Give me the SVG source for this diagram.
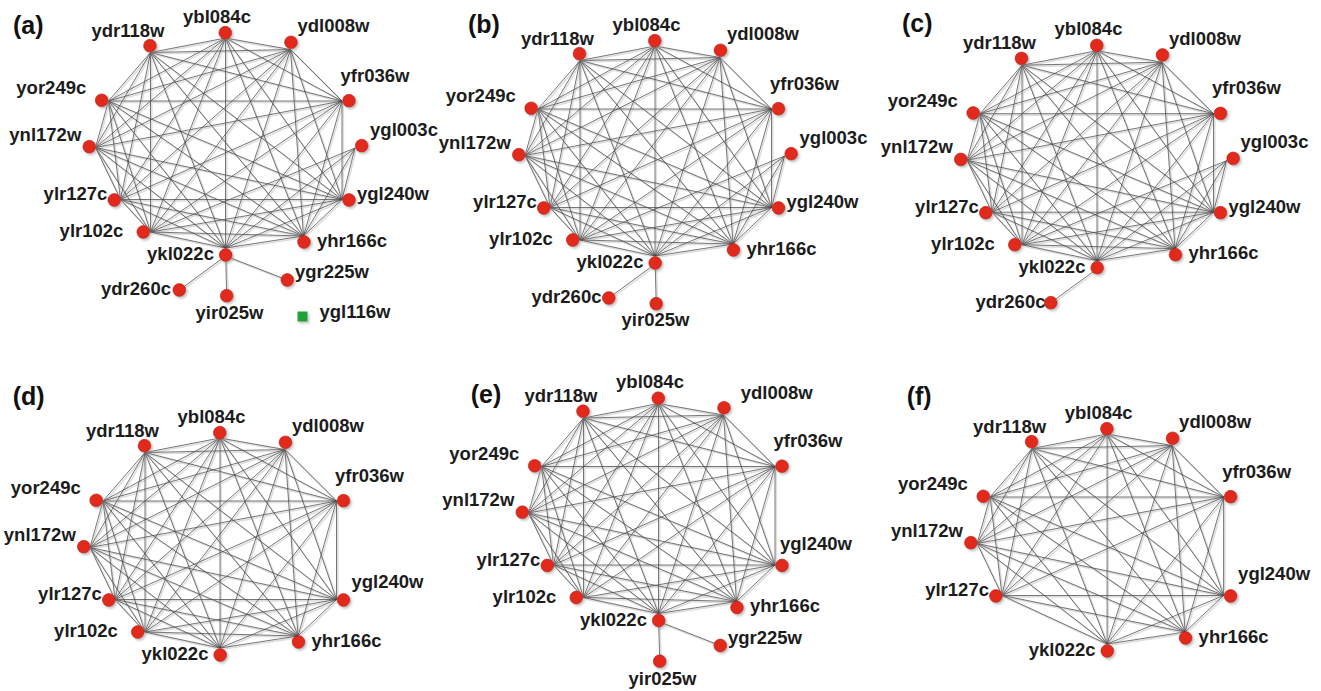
<svg xmlns="http://www.w3.org/2000/svg" xmlns:xlink="http://www.w3.org/1999/xlink" width="1321" height="691" viewBox="0 0 1321 691">
  <style>
    .lbl { font-family: "Liberation Sans", Arial, sans-serif; font-weight: bold; font-size: 18.5px; fill: #1c1c1c; text-anchor: middle; }
    .tag { font-family: "Liberation Sans", Arial, sans-serif; font-weight: bold; font-size: 25px; fill: #111; }
    .node circle { fill: #e2291c; stroke: #b81d12; stroke-width: 0.6; filter: url(#sh); }
    .node rect { fill: #1fa33a; filter: url(#sh); }
    .halo { fill: none; stroke: #dedede; stroke-width: 1.6; }
    .wire { fill: none; stroke: #484848; stroke-width: 0.75; }
  </style>
  <defs>
    <filter id="sh" x="-60%" y="-60%" width="220%" height="220%">
      <feDropShadow dx="1.6" dy="1.8" stdDeviation="1" flood-color="#888" flood-opacity="0.55"/>
    </filter>
    <!-- shared edge sets, in layout coordinates -->
    <path id="core10" d="M150.5 52.5L225.5 38M150.5 52.5L290.5 49.5M150.5 52.5L342 101M150.5 52.5L342 199.5M150.5 52.5L303.5 236M150.5 52.5L225.5 248M150.5 52.5L120.5 199.5M150.5 52.5L95.5 147.5M150.5 52.5L108.5 101
      M225.5 38L290.5 49.5M225.5 38L342 101M225.5 38L342 199.5M225.5 38L303.5 236M225.5 38L225.5 248M225.5 38L120.5 199.5M225.5 38L95.5 147.5M225.5 38L108.5 101
      M290.5 49.5L342 101M290.5 49.5L342 199.5M290.5 49.5L303.5 236M290.5 49.5L225.5 248M290.5 49.5L120.5 199.5M290.5 49.5L95.5 147.5M290.5 49.5L108.5 101
      M342 101L342 199.5M342 101L303.5 236M342 101L225.5 248M342 101L120.5 199.5M342 101L95.5 147.5M342 101L108.5 101
      M342 199.5L303.5 236M342 199.5L225.5 248M342 199.5L120.5 199.5M342 199.5L95.5 147.5M342 199.5L108.5 101
      M303.5 236L225.5 248M303.5 236L120.5 199.5M303.5 236L95.5 147.5M303.5 236L108.5 101
      M225.5 248L120.5 199.5M225.5 248L95.5 147.5M225.5 248L108.5 101
      M120.5 199.5L95.5 147.5M120.5 199.5L108.5 101
      M95.5 147.5L108.5 101"/>
    <path id="e-ylr102c" d="M150.5 232L150.5 52.5M150.5 232L225.5 38M150.5 232L290.5 49.5M150.5 232L342 101M150.5 232L342 199.5M150.5 232L303.5 236M150.5 232L225.5 248M150.5 232L120.5 199.5M150.5 232L95.5 147.5M150.5 232L108.5 101"/>
    <path id="e-ygl003c" d="M355 148L342 199.5M355 148L303.5 236M355 148L225.5 248M355 148L150.5 232"/>
    <path id="e-ydr260c" d="M225.7 256L179.3 290"/>
    <path id="e-yir025w" d="M225.7 256L226.7 295.7"/>
    <path id="e-ygr225w" d="M225.7 256L287.3 280"/>
  </defs>

  <rect width="1321" height="691" fill="#ffffff"/>

  <!-- panel letters -->
  <text class="tag" x="13" y="34">(a)</text>
  <text class="tag" x="468" y="33.3">(b)</text>
  <text class="tag" x="902" y="32.3">(c)</text>
  <text class="tag" x="12.7" y="405">(d)</text>
  <text class="tag" x="470.7" y="403.3">(e)</text>
  <text class="tag" x="906.7" y="405">(f)</text>

  <!-- (a) -->
  <g id="panel-a">
    <g id="a-edges">
      <g class="halo" transform="translate(1.3,1.4)">
        <use xlink:href="#core10"/><use xlink:href="#e-ylr102c"/><use xlink:href="#e-ygl003c"/><use xlink:href="#e-ydr260c"/><use xlink:href="#e-yir025w"/><use xlink:href="#e-ygr225w"/>
      </g>
      <g class="wire">
        <use xlink:href="#core10"/><use xlink:href="#e-ylr102c"/><use xlink:href="#e-ygl003c"/><use xlink:href="#e-ydr260c"/><use xlink:href="#e-yir025w"/><use xlink:href="#e-ygr225w"/>
      </g>
    </g>
    <g id="a-ydr118w" class="node"><circle cx="150" cy="45.7" r="6.4"/><text class="lbl" x="128" y="36.7">ydr118w</text></g>
    <g id="a-ybl084c" class="node"><circle cx="225.3" cy="32.7" r="6.4"/><text class="lbl" x="217" y="22.7">ybl084c</text></g>
    <g id="a-ydl008w" class="node"><circle cx="291" cy="42.3" r="6.4"/><text class="lbl" x="333.5" y="32.3">ydl008w</text></g>
    <g id="a-yfr036w" class="node"><circle cx="349" cy="100.7" r="6.4"/><text class="lbl" x="375" y="81.7">yfr036w</text></g>
    <g id="a-ygl003c" class="node"><circle cx="361.7" cy="145.7" r="6.4"/><text class="lbl" x="404" y="135.7">ygl003c</text></g>
    <g id="a-ygl240w" class="node"><circle cx="349" cy="200" r="6.4"/><text class="lbl" x="393" y="200">ygl240w</text></g>
    <g id="a-yhr166c" class="node"><circle cx="304" cy="242" r="6.4"/><text class="lbl" x="352" y="246.7">yhr166c</text></g>
    <g id="a-ykl022c" class="node"><circle cx="225.7" cy="255" r="6.4"/><text class="lbl" x="180.5" y="260">ykl022c</text></g>
    <g id="a-ylr102c" class="node"><circle cx="143.3" cy="232" r="6.4"/><text class="lbl" x="91.5" y="237.3">ylr102c</text></g>
    <g id="a-ylr127c" class="node"><circle cx="114.3" cy="200" r="6.4"/><text class="lbl" x="75.5" y="200">ylr127c</text></g>
    <g id="a-ynl172w" class="node"><circle cx="89.3" cy="146.7" r="6.4"/><text class="lbl" x="45.3" y="140.7">ynl172w</text></g>
    <g id="a-yor249c" class="node"><circle cx="101.7" cy="100.3" r="6.4"/><text class="lbl" x="51.3" y="94.3">yor249c</text></g>
    <g id="a-ydr260c" class="node"><circle cx="179.3" cy="290" r="6.4"/><text class="lbl" x="136" y="295">ydr260c</text></g>
    <g id="a-yir025w" class="node"><circle cx="226.7" cy="295.7" r="6.4"/><text class="lbl" x="229.5" y="319.3">yir025w</text></g>
    <g id="a-ygr225w" class="node"><circle cx="287.3" cy="280" r="6.4"/><text class="lbl" x="332" y="278.3">ygr225w</text></g>
    <g id="a-ygl116w" class="node"><rect x="297.5" y="311.5" width="10" height="10"/><text class="lbl" x="355" y="318.3">ygl116w</text></g>
  </g>

  <!-- (b) -->
  <g id="panel-b" transform="translate(429.5,8)">
    <g id="b-edges">
      <g class="halo" transform="translate(1.3,1.4)">
        <use xlink:href="#core10"/><use xlink:href="#e-ylr102c"/><use xlink:href="#e-ygl003c"/><use xlink:href="#e-ydr260c"/><use xlink:href="#e-yir025w"/>
      </g>
      <g class="wire">
        <use xlink:href="#core10"/><use xlink:href="#e-ylr102c"/><use xlink:href="#e-ygl003c"/><use xlink:href="#e-ydr260c"/><use xlink:href="#e-yir025w"/>
      </g>
    </g>
    <g id="b-ydr118w" class="node"><circle cx="150" cy="45.7" r="6.4"/><text class="lbl" x="128" y="36.7">ydr118w</text></g>
    <g id="b-ybl084c" class="node"><circle cx="225.3" cy="32.7" r="6.4"/><text class="lbl" x="217" y="22.7">ybl084c</text></g>
    <g id="b-ydl008w" class="node"><circle cx="291" cy="42.3" r="6.4"/><text class="lbl" x="333.5" y="32.3">ydl008w</text></g>
    <g id="b-yfr036w" class="node"><circle cx="349" cy="100.7" r="6.4"/><text class="lbl" x="375" y="81.7">yfr036w</text></g>
    <g id="b-ygl003c" class="node"><circle cx="361.7" cy="145.7" r="6.4"/><text class="lbl" x="404" y="135.7">ygl003c</text></g>
    <g id="b-ygl240w" class="node"><circle cx="349" cy="200" r="6.4"/><text class="lbl" x="393" y="200">ygl240w</text></g>
    <g id="b-yhr166c" class="node"><circle cx="304" cy="242" r="6.4"/><text class="lbl" x="352" y="246.7">yhr166c</text></g>
    <g id="b-ykl022c" class="node"><circle cx="225.7" cy="255" r="6.4"/><text class="lbl" x="180.5" y="260">ykl022c</text></g>
    <g id="b-ylr102c" class="node"><circle cx="143.3" cy="232" r="6.4"/><text class="lbl" x="91.5" y="237.3">ylr102c</text></g>
    <g id="b-ylr127c" class="node"><circle cx="114.3" cy="200" r="6.4"/><text class="lbl" x="75.5" y="200">ylr127c</text></g>
    <g id="b-ynl172w" class="node"><circle cx="89.3" cy="146.7" r="6.4"/><text class="lbl" x="45.3" y="140.7">ynl172w</text></g>
    <g id="b-yor249c" class="node"><circle cx="101.7" cy="100.3" r="6.4"/><text class="lbl" x="51.3" y="94.3">yor249c</text></g>
    <g id="b-ydr260c" class="node"><circle cx="179.3" cy="290" r="6.4"/><text class="lbl" x="137" y="295">ydr260c</text></g>
    <g id="b-yir025w" class="node"><circle cx="226.7" cy="295.7" r="6.4"/><text class="lbl" x="226" y="317.5">yir025w</text></g>
  </g>

  <!-- (c) -->
  <g id="panel-c" transform="translate(871.5,12.7)">
    <g id="c-edges">
      <g class="halo" transform="translate(1.3,1.4)">
        <use xlink:href="#core10"/><use xlink:href="#e-ylr102c"/><use xlink:href="#e-ygl003c"/><use xlink:href="#e-ydr260c"/>
      </g>
      <g class="wire">
        <use xlink:href="#core10"/><use xlink:href="#e-ylr102c"/><use xlink:href="#e-ygl003c"/><use xlink:href="#e-ydr260c"/>
      </g>
    </g>
    <g id="c-ydr118w" class="node"><circle cx="150" cy="45.7" r="6.4"/><text class="lbl" x="128" y="36.7">ydr118w</text></g>
    <g id="c-ybl084c" class="node"><circle cx="225.3" cy="32.7" r="6.4"/><text class="lbl" x="217" y="22.7">ybl084c</text></g>
    <g id="c-ydl008w" class="node"><circle cx="291" cy="42.3" r="6.4"/><text class="lbl" x="333.5" y="32.3">ydl008w</text></g>
    <g id="c-yfr036w" class="node"><circle cx="349" cy="100.7" r="6.4"/><text class="lbl" x="375" y="81.7">yfr036w</text></g>
    <g id="c-ygl003c" class="node"><circle cx="361.7" cy="145.7" r="6.4"/><text class="lbl" x="403" y="135.7">ygl003c</text></g>
    <g id="c-ygl240w" class="node"><circle cx="349" cy="200" r="6.4"/><text class="lbl" x="393" y="200">ygl240w</text></g>
    <g id="c-yhr166c" class="node"><circle cx="304" cy="242" r="6.4"/><text class="lbl" x="352" y="246.7">yhr166c</text></g>
    <g id="c-ykl022c" class="node"><circle cx="225.7" cy="255" r="6.4"/><text class="lbl" x="180.5" y="260">ykl022c</text></g>
    <g id="c-ylr102c" class="node"><circle cx="143.3" cy="232" r="6.4"/><text class="lbl" x="91.5" y="237.3">ylr102c</text></g>
    <g id="c-ylr127c" class="node"><circle cx="114.3" cy="200" r="6.4"/><text class="lbl" x="75.5" y="200">ylr127c</text></g>
    <g id="c-ynl172w" class="node"><circle cx="89.3" cy="146.7" r="6.4"/><text class="lbl" x="45.3" y="140.7">ynl172w</text></g>
    <g id="c-yor249c" class="node"><circle cx="101.7" cy="100.3" r="6.4"/><text class="lbl" x="51.3" y="94.3">yor249c</text></g>
    <g id="c-ydr260c" class="node"><circle cx="179.3" cy="290" r="6.4"/><text class="lbl" x="139" y="295.5">ydr260c</text></g>
  </g>

  <!-- (d) -->
  <g id="panel-d" transform="translate(-5.5,400)">
    <g id="d-edges">
      <g class="halo" transform="translate(1.3,1.4)">
        <use xlink:href="#core10"/><use xlink:href="#e-ylr102c"/>
      </g>
      <g class="wire">
        <use xlink:href="#core10"/><use xlink:href="#e-ylr102c"/>
      </g>
    </g>
    <g id="d-ydr118w" class="node"><circle cx="150" cy="45.7" r="6.4"/><text class="lbl" x="128" y="36.7">ydr118w</text></g>
    <g id="d-ybl084c" class="node"><circle cx="225.3" cy="32.7" r="6.4"/><text class="lbl" x="217" y="22.7">ybl084c</text></g>
    <g id="d-ydl008w" class="node"><circle cx="291" cy="42.3" r="6.4"/><text class="lbl" x="333.5" y="32.3">ydl008w</text></g>
    <g id="d-yfr036w" class="node"><circle cx="349" cy="100.7" r="6.4"/><text class="lbl" x="375" y="81.7">yfr036w</text></g>
    <g id="d-ygl240w" class="node"><circle cx="349" cy="200" r="6.4"/><text class="lbl" x="393" y="188">ygl240w</text></g>
    <g id="d-yhr166c" class="node"><circle cx="304" cy="242" r="6.4"/><text class="lbl" x="352" y="246.7">yhr166c</text></g>
    <g id="d-ykl022c" class="node"><circle cx="225.7" cy="255" r="6.4"/><text class="lbl" x="180.5" y="260">ykl022c</text></g>
    <g id="d-ylr102c" class="node"><circle cx="143.3" cy="232" r="6.4"/><text class="lbl" x="91.5" y="237.3">ylr102c</text></g>
    <g id="d-ylr127c" class="node"><circle cx="114.3" cy="200" r="6.4"/><text class="lbl" x="75.5" y="200">ylr127c</text></g>
    <g id="d-ynl172w" class="node"><circle cx="89.3" cy="146.7" r="6.4"/><text class="lbl" x="45.3" y="140.7">ynl172w</text></g>
    <g id="d-yor249c" class="node"><circle cx="101.7" cy="100.3" r="6.4"/><text class="lbl" x="51.3" y="94.3">yor249c</text></g>
  </g>

  <!-- (e) -->
  <g id="panel-e" transform="translate(433,365.5)">
    <g id="e-edges">
      <g class="halo" transform="translate(1.3,1.4)">
        <use xlink:href="#core10"/><use xlink:href="#e-ylr102c"/><use xlink:href="#e-yir025w"/><use xlink:href="#e-ygr225w"/>
      </g>
      <g class="wire">
        <use xlink:href="#core10"/><use xlink:href="#e-ylr102c"/><use xlink:href="#e-yir025w"/><use xlink:href="#e-ygr225w"/>
      </g>
    </g>
    <g id="e-ydr118w" class="node"><circle cx="150" cy="45.7" r="6.4"/><text class="lbl" x="128" y="36.7">ydr118w</text></g>
    <g id="e-ybl084c" class="node"><circle cx="225.3" cy="32.7" r="6.4"/><text class="lbl" x="217" y="22.7">ybl084c</text></g>
    <g id="e-ydl008w" class="node"><circle cx="291" cy="42.3" r="6.4"/><text class="lbl" x="343.7" y="33">ydl008w</text></g>
    <g id="e-yfr036w" class="node"><circle cx="349" cy="100.7" r="6.4"/><text class="lbl" x="375" y="81.7">yfr036w</text></g>
    <g id="e-ygl240w" class="node"><circle cx="349" cy="200" r="6.4"/><text class="lbl" x="383" y="184.5">ygl240w</text></g>
    <g id="e-yhr166c" class="node"><circle cx="304" cy="242" r="6.4"/><text class="lbl" x="352" y="246.7">yhr166c</text></g>
    <g id="e-ykl022c" class="node"><circle cx="225.7" cy="255" r="6.4"/><text class="lbl" x="180.5" y="260">ykl022c</text></g>
    <g id="e-ylr102c" class="node"><circle cx="143.3" cy="232" r="6.4"/><text class="lbl" x="91.5" y="237.3">ylr102c</text></g>
    <g id="e-ylr127c" class="node"><circle cx="114.3" cy="200" r="6.4"/><text class="lbl" x="75.5" y="200">ylr127c</text></g>
    <g id="e-ynl172w" class="node"><circle cx="89.3" cy="146.7" r="6.4"/><text class="lbl" x="45.3" y="140.7">ynl172w</text></g>
    <g id="e-yor249c" class="node"><circle cx="101.7" cy="100.3" r="6.4"/><text class="lbl" x="51.3" y="94.3">yor249c</text></g>
    <g id="e-yir025w" class="node"><circle cx="226.7" cy="295.7" r="6.4"/><text class="lbl" x="229.5" y="319.3">yir025w</text></g>
    <g id="e-ygr225w" class="node"><circle cx="287.3" cy="280" r="6.4"/><text class="lbl" x="332" y="278.3">ygr225w</text></g>
  </g>

  <!-- (f) -->
  <g id="panel-f" transform="translate(881.6,396)">
    <g id="f-edges">
      <g class="halo" transform="translate(1.3,1.4)">
        <use xlink:href="#core10"/>
      </g>
      <g class="wire">
        <use xlink:href="#core10"/>
      </g>
    </g>
    <g id="f-ydr118w" class="node"><circle cx="150" cy="45.7" r="6.4"/><text class="lbl" x="128" y="36.7">ydr118w</text></g>
    <g id="f-ybl084c" class="node"><circle cx="225.3" cy="32.7" r="6.4"/><text class="lbl" x="217" y="22.7">ybl084c</text></g>
    <g id="f-ydl008w" class="node"><circle cx="291" cy="42.3" r="6.4"/><text class="lbl" x="333.5" y="32.3">ydl008w</text></g>
    <g id="f-yfr036w" class="node"><circle cx="349" cy="100.7" r="6.4"/><text class="lbl" x="375" y="81.7">yfr036w</text></g>
    <g id="f-ygl240w" class="node"><circle cx="349" cy="200" r="6.4"/><text class="lbl" x="392.5" y="184">ygl240w</text></g>
    <g id="f-yhr166c" class="node"><circle cx="304" cy="242" r="6.4"/><text class="lbl" x="352" y="246.7">yhr166c</text></g>
    <g id="f-ykl022c" class="node"><circle cx="225.7" cy="255" r="6.4"/><text class="lbl" x="180.5" y="260">ykl022c</text></g>
    <g id="f-ylr127c" class="node"><circle cx="114.3" cy="200" r="6.4"/><text class="lbl" x="75.5" y="200">ylr127c</text></g>
    <g id="f-ynl172w" class="node"><circle cx="89.3" cy="146.7" r="6.4"/><text class="lbl" x="45.3" y="140.7">ynl172w</text></g>
    <g id="f-yor249c" class="node"><circle cx="101.7" cy="100.3" r="6.4"/><text class="lbl" x="51.3" y="94.3">yor249c</text></g>
  </g>
</svg>
